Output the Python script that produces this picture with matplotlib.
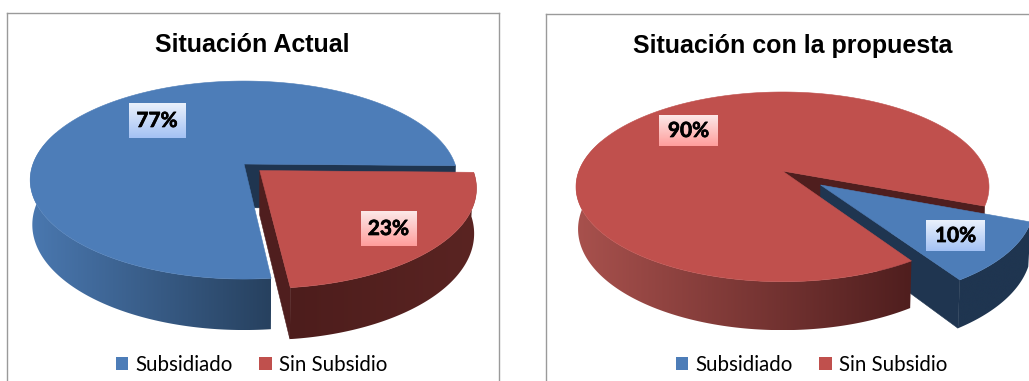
import numpy as np
import matplotlib
matplotlib.use("Agg")
import matplotlib.pyplot as plt
import matplotlib.patheffects as pe
from matplotlib.patches import Patch, Polygon
from matplotlib.colors import LinearSegmentedColormap

categories = ["Subsidiado", "Sin Subsidio"]
titles = ["Situación Actual", "Situación con la propuesta"]
values_actual = [77, 23]
values_propuesta = [10, 90]

BLUE, RED = "#4d7db8", "#c0504d"
BLUE_DK, RED_DK = "#1f3550", "#4f1e1e"
W, H = 1029, 381


class Pie3D:
    def __init__(self, ax, cx, cy, rx, ry, k, depth, s=0.99):
        self.ax, self.cx, self.cy, self.rx, self.ry = ax, cx, cy, rx, ry
        self.k, self.depth, self.s = k, depth, s

    def proj(self, u, v, low=False):
        u, v = np.asarray(u, float), np.asarray(v, float)
        w = 1 - self.k * v
        s = self.s if low else 1.0
        d = self.depth if low else 0.0
        return np.c_[self.cx + s * self.rx * u / w, self.cy + (s * self.ry * v + d) / w]

    def arc(self, a, b, off=(0, 0), low=False):
        t = np.radians(np.linspace(a, b, max(2, int(abs(b - a) * 2))))
        return self.proj(np.cos(t) + off[0], np.sin(t) + off[1], low)

    def top(self, a, b, off, color, z):
        apex = self.proj([off[0]], [off[1]])
        self.ax.add_patch(Polygon(np.r_[apex, self.arc(a, b, off)], fc=color, ec=color, lw=0.4, zorder=z))

    def wall(self, a, b, off, cl, cr, z):
        up, lo = self.arc(a, b, off), self.arc(a, b, off, True)
        pts = np.r_[up, lo[::-1]]
        poly = Polygon(pts, fc="none", ec="none", zorder=z)
        self.ax.add_patch(poly)
        cmap = LinearSegmentedColormap.from_list("g", [cl, cr])
        xa, xb = pts[:, 0].min(), pts[:, 0].max()
        im = self.ax.imshow(np.linspace(0, 1, 256)[None, :], cmap=cmap, aspect="auto", zorder=z,
                            extent=(xa, xb, pts[:, 1].max(), pts[:, 1].min()), interpolation="bilinear")
        im.set_clip_path(poly)

    def face(self, ang, off, color, z):
        t = np.radians(ang)
        us, vs = np.array([off[0], off[0] + np.cos(t)]), np.array([off[1], off[1] + np.sin(t)])
        up, lo = self.proj(us, vs), self.proj(us, vs, True)
        self.ax.add_patch(Polygon(np.r_[up, lo[::-1]], fc=color, ec=color, lw=0.4, zorder=z))


def label_box(ax, x0, x1, y0, y1, top, bottom, text, z=20):
    cmap = LinearSegmentedColormap.from_list("b", [top, bottom])
    ax.imshow(np.linspace(0, 1, 64)[:, None], cmap=cmap, aspect="auto", zorder=z, extent=(x0, x1, y1, y0))
    t = ax.text((x0 + x1) / 2, (y0 + y1) / 2 + 0.5, text, ha="center", va="center", fontsize=15,
                fontweight="bold", family="Lato", color="black", zorder=z + 1)
    t.set_path_effects([pe.withStroke(linewidth=0.5, foreground="black")])


def panel(x0, x1, y0, right_spine, title, tx, ty, legend_x):
    ax = fig.add_axes([x0 / W, 0, (x1 - x0) / W, (H - y0) / H])
    ax.set_autoscale_on(False)
    ax.set_xlim(x0, x1)
    ax.set_ylim(H, y0)
    ax.set_xticks([]), ax.set_yticks([])
    for n, sp in ax.spines.items():
        sp.set_color("#9a9a9a")
        sp.set_linewidth(1.0)
    ax.spines["bottom"].set_visible(False)
    ax.spines["right"].set_visible(right_spine)
    ax.set_title(title, x=(tx - x0) / (x1 - x0), y=1 - (ty - y0) / (H - y0), va="center", ha="center",
                 fontsize=18, fontweight="bold", family="Liberation Sans", color="black", pad=0)
    handles = [Patch(fc=BLUE, ec="none"), Patch(fc=RED, ec="none")]
    ax.legend(handles, categories, loc="center", bbox_to_anchor=(legend_x, 365), bbox_transform=ax.transData,
              ncol=2, frameon=False, handlelength=0.61, handleheight=0.61, handletextpad=0.34, columnspacing=1.3,
              prop={"family": "Lato", "size": 14.8}, borderpad=0, borderaxespad=0)
    return ax


def sweeps(values, start):
    a = start
    out = []
    for val in values:
        b = a + 360 * val / sum(values)
        out.append((a, b))
        a = b
    return out


def explode(a, b, e):
    m = np.radians((a + b) / 2)
    return (e * np.cos(m), e * np.sin(m))


fig = plt.figure(figsize=(W / 100, H / 100), dpi=100, facecolor="white")

# ---- left chart
ax = panel(6.5, 498.5, 13, True, titles[0], 252.5, 45, 251.5)
p = Pie3D(ax, 244, 164, 211, 96.4, 0.162, 43.7)
(a_b, b_b), (a_r, b_r) = sweeps(values_actual[::-1], 1.0)[::-1]
a_b, b_b = sweeps(values_actual, b_r)[0]
off = explode(a_r, b_r, 0.1)
p.face(a_r, (0, 0), BLUE_DK, 2)
p.wall(a_b, 200, (0, 0), "#4a78b0", "#27415f", 3)
p.top(a_b, b_b, (0, 0), BLUE, 4)
p.face(b_r, off, RED_DK, 5)
p.wall(a_r, b_r, off, "#4d1d1c", "#5a2422", 6)
p.top(a_r, b_r, off, RED, 7)
label_box(ax, 128.5, 185.5, 103, 138, "#eaf1fc", "#a4c2f4", f"{values_actual[0]}%")
label_box(ax, 360.5, 416.5, 211, 246, "#fce8e8", "#ff9e9c", f"{values_actual[1]}%")

# ---- right chart
ax = panel(546, 1032, 14, False, titles[1], 793, 46, 811.5)
p = Pie3D(ax, 782.5, 171, 203.6, 92.2, 0.167, 41.3)
(a_b, b_b), (a_r, b_r) = sweeps(values_propuesta, 21)
off = explode(a_b, b_b, 0.235)
p.face(a_b, (0, 0), RED_DK, 2)
p.face(b_b, off, BLUE_DK, 3)
p.wall(a_b, b_b, off, BLUE_DK, BLUE_DK, 4)
p.wall(a_r, 200, (0, 0), "#a8514d", "#4f1e1e", 5)
p.top(a_r, b_r, (0, 0), RED, 6)
p.top(a_b, b_b, off, BLUE, 7)
label_box(ax, 659, 718, 115, 146, "#fce8e8", "#ff9e9c", f"{values_propuesta[1]}%")
label_box(ax, 926, 985, 220, 251, "#eaf1fc", "#a4c2f4", f"{values_propuesta[0]}%")

fig.savefig("out.png", dpi=100, facecolor="white")
